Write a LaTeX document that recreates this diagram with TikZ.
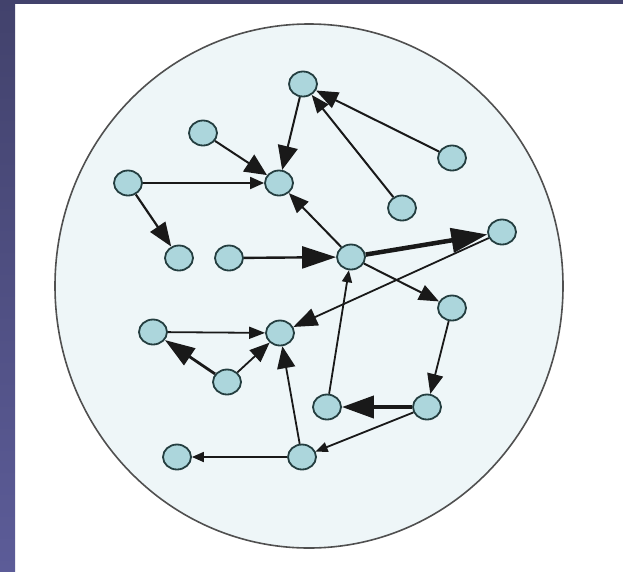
\documentclass[tikz,border=0pt]{standalone}
\usetikzlibrary{arrows.meta,shapes.geometric}
\definecolor{barTop}{RGB}{66,66,108}
\definecolor{barBot}{RGB}{92,92,152}
\definecolor{worldfill}{RGB}{238,246,248}
\definecolor{worldline}{RGB}{80,80,80}
\definecolor{vfill}{RGB}{172,214,220}
\definecolor{vline}{RGB}{36,62,64}
\tikzset{
  vtx/.style={ellipse, draw=vline, fill=vfill, line width=1.8pt, minimum width=28pt, minimum height=25pt, inner sep=0pt},
  ar/.style n args={3}{draw=black!90, line width=#1, -{Triangle[length=#2,width=#3]}},
}
\begin{document}
\begin{tikzpicture}[x=1pt,y=-1pt]
\useasboundingbox (0,0) rectangle (623,571);
\fill[white] (0,0) rectangle (623,571);
\shade[top color=barTop,bottom color=barBot] (0,0) rectangle (15,571);
\fill[barTop] (0,0) rectangle (623,4);
\draw[worldline, fill=worldfill, line width=1.6pt] (309,286) ellipse [x radius=254, y radius=262];

\node[vtx] (A) at (303,84) {};
\node[vtx] (B) at (203,133) {};
\node[vtx] (C) at (128,183) {};
\node[vtx] (D) at (279,183) {};
\node[vtx] (E) at (179,258) {};
\node[vtx] (F) at (229,258) {};
\node[vtx] (G) at (351,257) {};
\node[vtx] (H) at (452,158) {};
\node[vtx] (I) at (402,208) {};
\node[vtx] (J) at (502,232) {};
\node[vtx] (K) at (153,332) {};
\node[vtx] (L) at (280,333) {};
\node[vtx] (M) at (227,382) {};
\node[vtx] (N) at (327,407) {};
\node[vtx] (O) at (177,457) {};
\node[vtx] (P) at (302,457) {};
\node[vtx] (Q) at (452,308) {};
\node[vtx] (R) at (427,407) {};

\draw[ar={2pt}{24pt}{20pt}] (A) -- (D);
\draw[ar={2pt}{22pt}{20pt}] (B) -- (D);
\draw[ar={1.8pt}{14pt}{12pt}] (C) -- (D);
\draw[ar={2.2pt}{24pt}{18pt}] (C) -- (E);
\draw[ar={2.4pt}{34pt}{22pt}] (F) -- (G);
\draw[ar={2pt}{20pt}{16pt}] (G) -- (D);
\draw[ar={2pt}{22pt}{17pt}] (H) -- (A);
\draw[ar={2pt}{18pt}{14pt}] (I) -- (A);
\draw[ar={4.5pt}{36pt}{24pt}] (G) -- (J);
\draw[ar={1.8pt}{24pt}{18pt}] (J) -- (L);
\draw[ar={2pt}{20pt}{16pt}] (G) -- (Q);
\draw[ar={1.8pt}{12pt}{10pt}] (N) -- (G);
\draw[ar={1.8pt}{20pt}{16pt}] (Q) -- (R);
\draw[ar={4pt}{32pt}{22pt}] (R) -- (N);
\draw[ar={1.8pt}{12pt}{10pt}] (R) -- (P);
\draw[ar={1.8pt}{12pt}{10pt}] (P) -- (O);
\draw[ar={1.8pt}{22pt}{18pt}] (P) -- (L);
\draw[ar={1.8pt}{16pt}{12pt}] (K) -- (L);
\draw[ar={2.8pt}{30pt}{20pt}] (M) -- (K);
\draw[ar={1.8pt}{20pt}{16pt}] (M) -- (L);
\end{tikzpicture}
\end{document}
